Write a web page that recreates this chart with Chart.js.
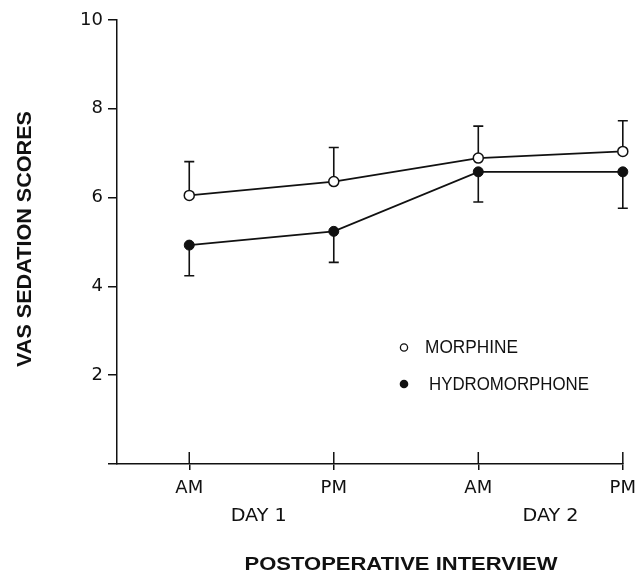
<!DOCTYPE html>
<html>
<head>
<meta charset="utf-8">
<script src="https://cdn.jsdelivr.net/npm/chart.js@4.4.0/dist/chart.umd.min.js"></script>
<style>
html, body { margin: 0; padding: 0; background: #fff; }
</style>
</head>
<body>
<canvas id="sedationChart" width="644" height="573"></canvas>
<script>
// values
const interviewLabels = ['AM', 'PM', 'AM', 'PM'];
const dayLabels = ['DAY 1', 'DAY 2'];
const dayPositions = [0.48, 2.5];
const morphineMeans = [6.05, 6.36, 6.89, 7.04];
const morphineErrors = [0.76, 0.77, 0.72, 0.69];
const hydroMeans = [4.93, 5.24, 6.58, 6.58];
const hydroErrors = [0.69, 0.70, 0.68, 0.82];
const yTickValues = [0, 2, 4, 6, 8, 10];

const INK = '#111';
const TICK_FONT = '"DejaVu Sans", "Liberation Sans", Arial, sans-serif';

function toPoints(values) {
    return values.map((v, i) => ({ x: i, y: v }));
}

function drawFittedText(ctx, text, x, y, font, width, angle) {
    ctx.save();
    ctx.font = font;
    const w = ctx.measureText(text).width;
    ctx.translate(x, y);
    ctx.rotate(angle || 0);
    ctx.scale(width / w, 1);
    ctx.textAlign = 'center';
    ctx.textBaseline = 'middle';
    ctx.fillStyle = INK;
    ctx.fillText(text, 0, 0);
    ctx.restore();
}

// one-sided error bars: morphine up, hydromorphone down
const errorBarPlugin = {
    id: 'errorBars',
    beforeDatasetsDraw(chart) {
        const { ctx, scales: { x, y } } = chart;
        const bars = [
            { means: morphineMeans, errors: morphineErrors, dir: 1 },
            { means: hydroMeans, errors: hydroErrors, dir: -1 }
        ];
        ctx.save();
        ctx.strokeStyle = INK;
        ctx.lineWidth = 1.6;
        bars.forEach(set => {
            set.means.forEach((m, i) => {
                const px = x.getPixelForValue(i);
                const y0 = y.getPixelForValue(m);
                const y1 = y.getPixelForValue(m + set.dir * set.errors[i]);
                ctx.beginPath();
                ctx.moveTo(px, y0);
                ctx.lineTo(px, y1);
                ctx.moveTo(px - 5, y1);
                ctx.lineTo(px + 5, y1);
                ctx.stroke();
            });
        });
        ctx.restore();
    }
};

const annotationPlugin = {
    id: 'annotations',
    afterDraw(chart) {
        const { ctx, scales: { x, y } } = chart;

        // x ticks also reach up into the plot
        ctx.save();
        ctx.strokeStyle = INK;
        ctx.lineWidth = 1.5;
        x.ticks.forEach(t => {
            const px = x.getPixelForValue(t.value);
            ctx.beginPath();
            ctx.moveTo(px, y.bottom);
            ctx.lineTo(px, y.bottom - 12);
            ctx.stroke();
        });
        ctx.restore();

        dayLabels.forEach((d, i) => {
            drawFittedText(ctx, d, x.getPixelForValue(dayPositions[i]), 516, '18px ' + TICK_FONT, 56);
        });

        drawFittedText(ctx, 'POSTOPERATIVE INTERVIEW', 401, 565, 'bold 18px "Liberation Sans", Arial, sans-serif', 313);
        drawFittedText(ctx, 'VAS SEDATION SCORES', 25, 239, 'bold 20px "Liberation Sans", Arial, sans-serif', 256, -Math.PI / 2);

        // legend
        ctx.save();
        ctx.strokeStyle = INK;
        ctx.fillStyle = '#fff';
        ctx.lineWidth = 1.3;
        ctx.beginPath();
        ctx.arc(404, 347.5, 3.6, 0, Math.PI * 2);
        ctx.fill();
        ctx.stroke();
        ctx.fillStyle = INK;
        ctx.beginPath();
        ctx.arc(404, 384, 4.3, 0, Math.PI * 2);
        ctx.fill();
        ctx.restore();
        drawFittedText(ctx, 'MORPHINE', 471.5, 347.5, '19px "Liberation Sans", Arial, sans-serif', 93);
        drawFittedText(ctx, 'HYDROMORPHONE', 509, 384.5, '19px "Liberation Sans", Arial, sans-serif', 160);
    }
};

const ctx = document.getElementById('sedationChart');
new Chart(ctx, {
    type: 'line',
    data: {
        datasets: [
            {
                label: 'MORPHINE',
                data: toPoints(morphineMeans),
                borderColor: INK,
                borderWidth: 1.7,
                pointStyle: 'circle',
                pointRadius: 5,
                pointBorderWidth: 1.5,
                pointBackgroundColor: '#fff',
                pointBorderColor: INK,
                tension: 0,
                clip: false
            },
            {
                label: 'HYDROMORPHONE',
                data: toPoints(hydroMeans),
                borderColor: INK,
                borderWidth: 1.7,
                pointStyle: 'circle',
                pointRadius: 5,
                pointBorderWidth: 1,
                pointBackgroundColor: INK,
                pointBorderColor: INK,
                tension: 0,
                clip: false
            }
        ]
    },
    options: {
        responsive: false,
        animation: false,
        layout: { padding: { top: 20, right: 17, left: 0, bottom: 0 } },
        scales: {
            x: {
                type: 'linear',
                min: -0.5,
                max: 3,
                afterBuildTicks: scale => {
                    scale.ticks = interviewLabels.map((_, i) => ({ value: i }));
                },
                afterFit: scale => { scale.height = 109; },
                border: { color: INK, width: 1.5 },
                grid: { drawOnChartArea: false, tickLength: 6, color: INK, lineWidth: 1.5 },
                ticks: {
                    color: INK,
                    padding: 8,
                    maxRotation: 0,
                    font: { family: TICK_FONT, size: 18 },
                    callback: value => interviewLabels[value] ?? ''
                }
            },
            y: {
                min: 0,
                max: 10,
                afterBuildTicks: scale => {
                    scale.ticks = yTickValues.map(v => ({ value: v }));
                },
                afterFit: scale => { scale.width = 117; },
                border: { color: INK, width: 1.5 },
                grid: { drawOnChartArea: false, tickLength: 9, color: INK, lineWidth: 1.5 },
                ticks: {
                    color: INK,
                    padding: 5,
                    font: { family: TICK_FONT, size: 18 },
                    callback: value => value === 0 ? '' : String(value)
                }
            }
        },
        plugins: {
            legend: { display: false },
            tooltip: { enabled: false }
        }
    },
    plugins: [errorBarPlugin, annotationPlugin]
});
</script>
</body>
</html>
